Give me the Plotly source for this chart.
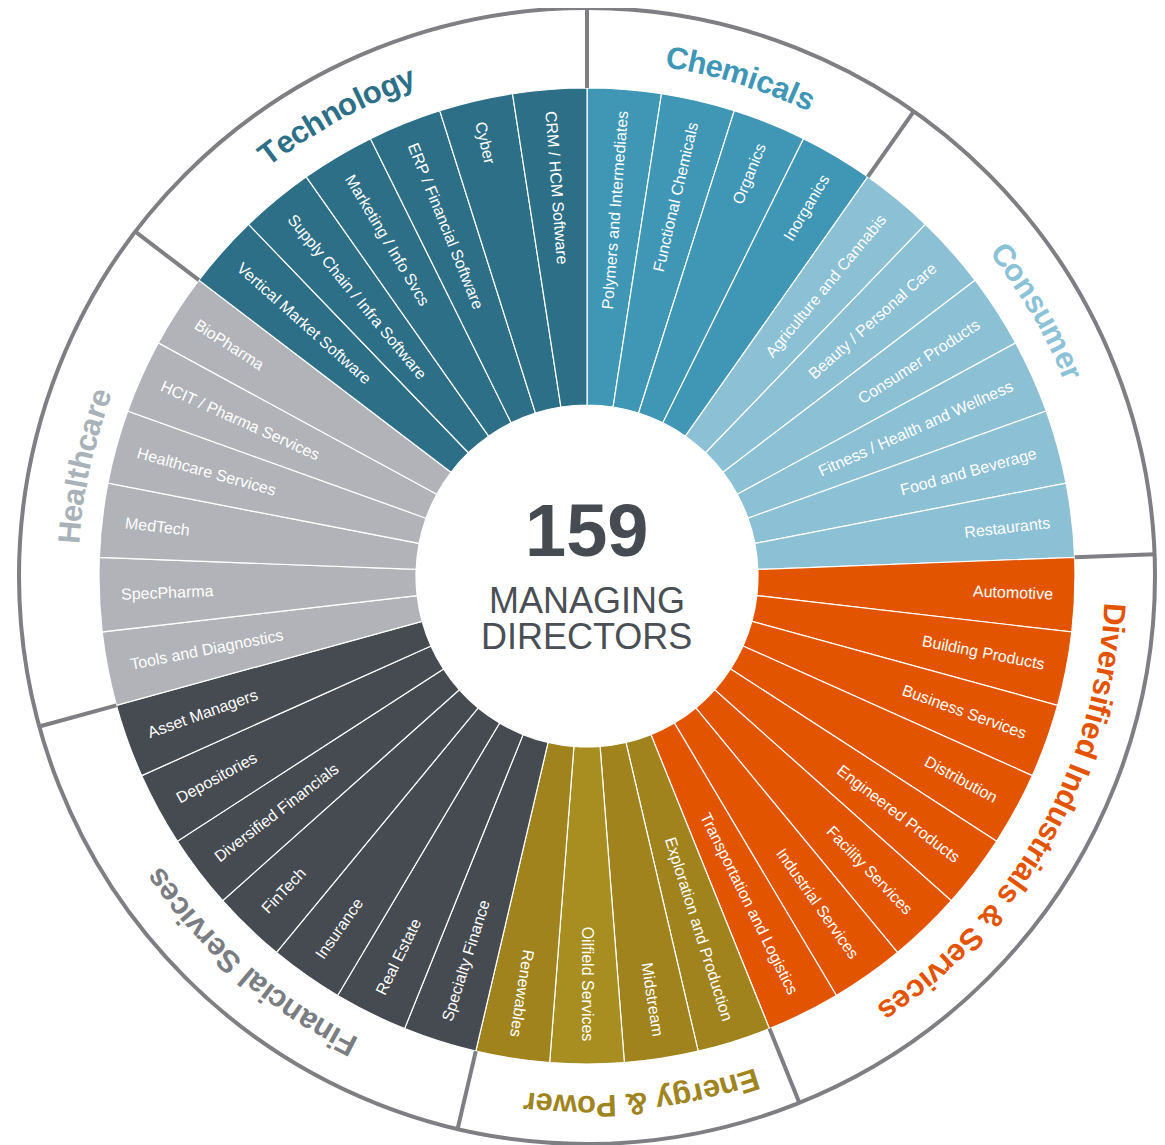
import math

import plotly.graph_objects as go


groups = [
    "Chemicals",
    "Consumer",
    "Diversified Industrials & Services",
    "Energy & Power",
    "Financial Services",
    "Healthcare",
    "Technology",
]

chemicals = ["Polymers and Intermediates", "Functional Chemicals", "Organics", "Inorganics"]
consumer = [
    "Agriculture and Cannabis",
    "Beauty / Personal Care",
    "Consumer Products",
    "Fitness / Health and Wellness",
    "Food and Beverage",
    "Restaurants",
]
diversified = [
    "Automotive",
    "Building Products",
    "Business Services",
    "Distribution",
    "Engineered Products",
    "Facility Services",
    "Industrial Services",
    "Transportation and Logistics",
]
energy = ["Exploration and Production", "Midstream", "Oilfield Services", "Renewables"]
financial = [
    "Specialty Finance",
    "Real Estate",
    "Insurance",
    "FinTech",
    "Diversified Financials",
    "Depositories",
    "Asset Managers",
]
healthcare = [
    "Tools and Diagnostics",
    "SpecPharma",
    "MedTech",
    "Healthcare Services",
    "HCIT / Pharma Services",
    "BioPharma",
]
technology = [
    "Vertical Market Software",
    "Supply Chain / Infra Software",
    "Marketing / Info Svcs",
    "ERP / Financial Software",
    "Cyber",
    "CRM / HCM Software",
]
group_sectors = [chemicals, consumer, diversified, energy, financial, healthcare, technology]

total_mds = "159"
center_lines = ["MANAGING", "DIRECTORS"]

sector_colors = ["#4096b5", "#8bc0d5", "#e35400", "#a0831d", "#464b52", "#b1b3b8", "#2e6f88"]
label_colors = ["#3f96b6", "#8cc2d7", "#e35300", "#a0841e", "#7a7d82", "#a9b2b8", "#2e6f88"]
label_angles = [17.1, 59.5, 119.5, 174.0, 221.0, 282.3, 331.5]
label_radii = [525, 526, 529, 530, 526, 519, 529]

# geometry (pixels). The page body adds an 8px margin, so the figure is
# drawn 8px in from the window's top-left corner.
PAGE_OFFSET = 8
W, H = 1165 - PAGE_OFFSET, 1145 - PAGE_OFFSET
CX, CY = 587 - PAGE_OFFSET, 576 - PAGE_OFFSET
R_OUT, R_BAR, R_IN = 568, 488, 171
R_SECTOR_TEXT_END = 466
RING_GREY = "#7f7f83"
FONT = "Liberation Sans, Arial, sans-serif"

# Arial advance widths (1/1000 em)
REG = {" ": 278, "/": 278, "&": 667, "A": 667, "B": 667, "C": 722, "D": 722, "E": 667, "F": 611,
       "G": 778, "H": 722, "I": 278, "L": 556, "M": 833, "N": 722, "O": 778, "P": 667, "R": 722,
       "S": 667, "T": 611, "V": 667, "W": 944, "a": 556, "b": 556, "c": 500, "d": 556, "e": 556,
       "f": 278, "g": 556, "h": 556, "i": 222, "k": 500, "l": 222, "m": 833, "n": 556, "o": 556,
       "p": 556, "r": 333, "s": 500, "t": 278, "u": 556, "v": 500, "w": 722, "x": 500, "y": 500}
BOLD = {" ": 278, "&": 722, "C": 722, "D": 722, "E": 667, "F": 611, "H": 722, "I": 278, "P": 667,
        "S": 667, "T": 611, "a": 556, "c": 556, "d": 611, "e": 556, "f": 333, "g": 611, "h": 611,
        "i": 278, "l": 278, "m": 889, "n": 611, "o": 611, "r": 389, "s": 556, "t": 333, "u": 611,
        "v": 556, "w": 778, "y": 556}


def text_width(s, size, table):
    return sum(table.get(ch, 556) for ch in s) * size / 1000.0


def to_paper(r, theta_deg):
    t = math.radians(theta_deg)
    x = CX + r * math.sin(t)
    y = CY - r * math.cos(t)
    return x / W, 1 - y / H


def norm_angle(a):
    return (a + 180) % 360 - 180


names, colors = [], []
for g, secs in enumerate(group_sectors):
    for s in secs:
        names.append(s)
        colors.append(sector_colors[g])
colors[names.index("Oilfield Services")] = "#a88d20"

n = len(names)
step = 360.0 / n
thetas = [(i + 0.5) * step for i in range(n)]

fig = go.Figure()
fig.add_trace(
    go.Barpolar(
        r=[R_BAR - R_IN] * n,
        base=R_IN,
        theta=thetas,
        width=[step] * n,
        marker={"color": colors, "line": {"color": "white", "width": 1.2}},
        text=names,
        hoverinfo="text",
    )
)

# group dividers in the outer ring
boundaries = []
count = 0
for secs in group_sectors:
    boundaries.append(count * step)
    count += len(secs)
for b in boundaries:
    fig.add_trace(
        go.Scatterpolar(
            r=[R_BAR, R_OUT],
            theta=[b, b],
            mode="lines",
            line={"color": RING_GREY, "width": 4},
            hoverinfo="skip",
        )
    )

annotations = []

# sector labels, radial
split = boundaries[4]
for name, th in zip(names, thetas):
    w = text_width(name, 16, REG)
    rc = R_SECTOR_TEXT_END - w / 2
    x, y = to_paper(rc, th)
    ang = th - 90 if th < split else th - 270
    annotations.append(dict(
        x=x, y=y, xref="paper", yref="paper", text=name, showarrow=False,
        textangle=norm_angle(ang), xanchor="center", yanchor="middle",
        font={"family": FONT, "size": 16, "color": "white"},
    ))

# group labels, curved along the ring
GROUP_SIZE = 31
for g, label in enumerate(groups):
    rad = label_radii[g]
    total = text_width(label, GROUP_SIZE, BOLD)
    start = label_angles[g] - math.degrees(total / 2 / rad)
    offset = 0.0
    for ch in label:
        cw = text_width(ch, GROUP_SIZE, BOLD)
        th = start + math.degrees((offset + cw / 2) / rad)
        offset += cw
        if ch == " ":
            continue
        x, y = to_paper(rad, th)
        annotations.append(dict(
            x=x, y=y, xref="paper", yref="paper", text=ch, showarrow=False,
            textangle=norm_angle(th), xanchor="center", yanchor="middle",
            font={"family": FONT, "size": GROUP_SIZE, "color": label_colors[g], "weight": "bold"},
        ))

# centre text
annotations.append(dict(
    x=CX / W, y=1 - (531 - PAGE_OFFSET) / H, xref="paper", yref="paper",
    text=f"<b>{total_mds}</b>", showarrow=False,
    xanchor="center", yanchor="middle", font={"family": FONT, "size": 74, "color": "#464b52"},
))
for line, yc in zip(center_lines, [600, 636]):
    annotations.append(dict(
        x=CX / W, y=1 - (yc - PAGE_OFFSET) / H, xref="paper", yref="paper", text=line, showarrow=False,
        xanchor="center", yanchor="middle", font={"family": FONT, "size": 36, "color": "#4a4f56"},
    ))

fig.update_layout(
    width=W,
    height=H,
    margin={"l": 0, "r": 0, "t": 0, "b": 0},
    paper_bgcolor="white",
    showlegend=False,
    annotations=annotations,
    polar={
        "domain": {"x": [(CX - R_OUT) / W, (CX + R_OUT) / W],
                   "y": [(H - CY - R_OUT) / H, (H - CY + R_OUT) / H]},
        "bgcolor": "white",
        "bargap": 0,
        "radialaxis": {"range": [0, R_OUT], "visible": False, "showgrid": False},
        "angularaxis": {
            "rotation": 90,
            "direction": "clockwise",
            "showgrid": False,
            "showticklabels": False,
            "ticks": "",
            "showline": True,
            "linecolor": RING_GREY,
            "linewidth": 4,
        },
    },
)

fig.write_html("out.html")
